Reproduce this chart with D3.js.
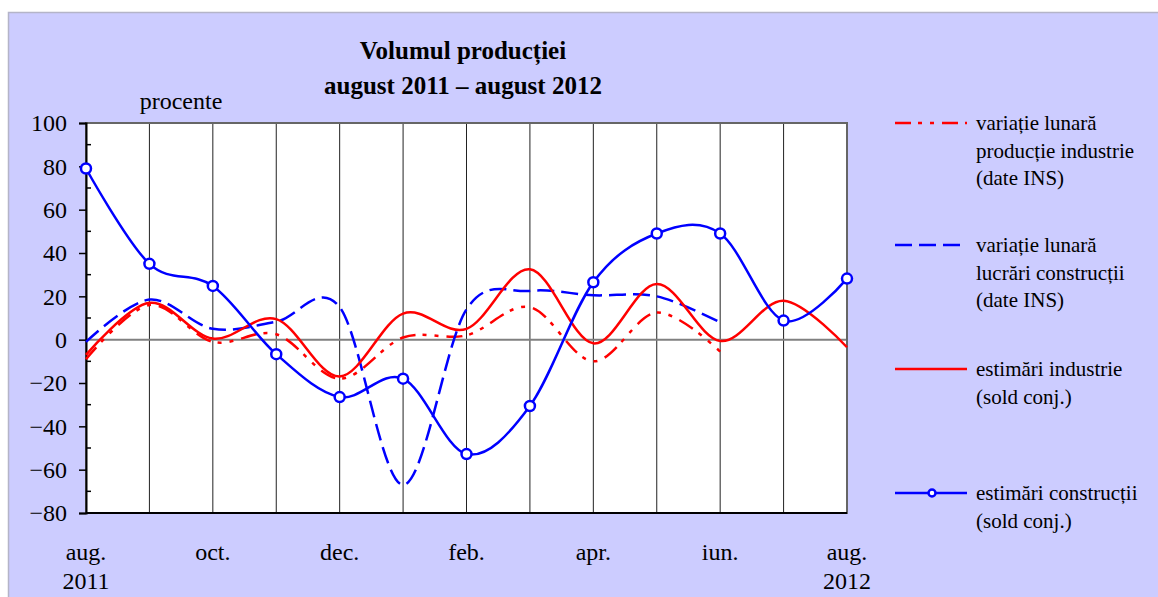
<!DOCTYPE html>
<html>
<head>
<meta charset="utf-8">
<script src="https://cdn.jsdelivr.net/npm/d3@7"></script>
<style>
body { margin: 0; background: #fff; }
text { font-family: "Liberation Serif", "Times New Roman", serif; fill: #000; }
</style>
</head>
<body>
<div id="chart"></div>
<script>
var months = ["aug.", "sep.", "oct.", "nov.", "dec.", "ian.", "feb.", "mar.", "apr.", "mai", "iun.", "iul.", "aug."];
var yTicks = [-80, -60, -40, -20, 0, 20, 40, 60, 80, 100];

// variatie lunara productie industrie (date INS), aug 2011 - iun 2012
var indProd = [-9, 16, -1, 2.5, -18, 1, 2, 15, -10, 12.5, -5.5];
// variatie lunara lucrari constructii (date INS)
var constrIns = [-1, 18.5, 5, 8.3, 15, -67, 14, 22.5, 20.5, 20, 8];
// estimari industrie (sold conj.)
var indEst = [-7, 17, 0.5, 9.5, -17, 12, 5, 32.5, -1.7, 25.7, -0.6, 18, -3.5];
// estimari constructii (sold conj.)
var constrEst = [79, 35, 24.8, -6.7, -26.5, -18, -52.8, -30.6, 26.5, 49, 49, 8.8, 28.2];

var W = 1158, H = 597;
var pLeft = 86, pRight = 847, pTop = 123, pBottom = 513;

var svg = d3.select("#chart").append("svg")
	.attr("width", W)
	.attr("height", H);

svg.append("rect")
	.attr("x", 8.5).attr("y", 12.5)
	.attr("width", W).attr("height", H)
	.attr("fill", "#ccccff")
	.attr("stroke", "#b4b4c8")
	.attr("stroke-width", 1.5);

var x = d3.scaleLinear().domain([0, months.length - 1]).range([pLeft, pRight]);
var y = d3.scaleLinear().domain([-80, 100]).range([pBottom, pTop]);

svg.append("rect")
	.attr("x", pLeft).attr("y", pTop)
	.attr("width", pRight - pLeft).attr("height", pBottom - pTop)
	.attr("fill", "#fff");

// vertical grid, one per month
svg.append("g").selectAll("line")
	.data(months)
	.enter()
	.append("line")
	.attr("x1", function(d, i){ return x(i); })
	.attr("x2", function(d, i){ return x(i); })
	.attr("y1", pTop).attr("y2", pBottom)
	.attr("stroke", "#222")
	.attr("stroke-width", 1);

svg.append("line")
	.attr("x1", pLeft).attr("x2", pRight)
	.attr("y1", y(0)).attr("y2", y(0))
	.attr("stroke", "#808080")
	.attr("stroke-width", 2);

svg.append("rect")
	.attr("x", pLeft).attr("y", pTop)
	.attr("width", pRight - pLeft).attr("height", pBottom - pTop)
	.attr("fill", "none")
	.attr("stroke", "#666")
	.attr("stroke-width", 2);

svg.append("line")
	.attr("x1", pLeft).attr("x2", pRight)
	.attr("y1", pBottom).attr("y2", pBottom)
	.attr("stroke", "#000").attr("stroke-width", 2);

// y axis
var yAxis = d3.axisLeft(y).tickValues(yTicks).tickSize(7).tickPadding(12);
var ga = svg.append("g")
	.attr("transform", "translate(" + pLeft + ",0)")
	.call(yAxis);
ga.select(".domain").attr("stroke", "#000").attr("stroke-width", 2);
ga.selectAll(".tick line").attr("stroke", "#000").attr("stroke-width", 1.5);
ga.selectAll(".tick text")
	.style("font-family", "'Liberation Serif', serif")
	.style("font-size", "24px")
	.attr("fill", "#000");

var minor = d3.range(-70, 100, 20);
svg.append("g").selectAll("line")
	.data(minor)
	.enter()
	.append("line")
	.attr("x1", pLeft).attr("x2", pLeft + 5)
	.attr("y1", function(d){ return y(d); })
	.attr("y2", function(d){ return y(d); })
	.attr("stroke", "#000").attr("stroke-width", 1.5);

// month labels, every second month
svg.append("g").selectAll("text")
	.data(months.filter(function(d, i){ return i % 2 == 0; }))
	.enter()
	.append("text")
	.attr("x", function(d, i){ return x(i * 2); })
	.attr("y", 560)
	.attr("text-anchor", "middle")
	.style("font-size", "24px")
	.text(function(d){ return d; });

svg.append("text").attr("x", x(0)).attr("y", 589).attr("text-anchor", "middle")
	.style("font-size", "24px").text("2011");
svg.append("text").attr("x", x(12)).attr("y", 589).attr("text-anchor", "middle")
	.style("font-size", "24px").text("2012");

svg.append("text").attr("x", 181).attr("y", 109).attr("text-anchor", "middle")
	.style("font-size", "24px").text("procente");

svg.append("text").attr("x", 463).attr("y", 59).attr("text-anchor", "middle")
	.style("font-size", "25px").style("font-weight", "bold").text("Volumul producției");
svg.append("text").attr("x", 463).attr("y", 94).attr("text-anchor", "middle")
	.style("font-size", "25px").style("font-weight", "bold").text("august 2011 – august 2012");

var line = d3.line()
	.x(function(d, i){ return x(i); })
	.y(function(d){ return y(d); })
	.curve(d3.curveCardinal.tension(0));

var series = [
	{ name: ["variație lunară", "producție industrie", "(date INS)"], data: indProd, color: "#ff0000", dash: "16,7,4,8,4,8", ly: 123 },
	{ name: ["variație lunară", "lucrări construcții", "(date INS)"], data: constrIns, color: "#0000ff", dash: "17,7", ly: 245 },
	{ name: ["estimări industrie", "(sold conj.)"], data: indEst, color: "#ff0000", dash: null, ly: 369 },
	{ name: ["estimări construcții", "(sold conj.)"], data: constrEst, color: "#0000ff", dash: null, ly: 493, marker: true }
];

var plot = svg.append("g");
series.forEach(function(s){
	plot.append("path")
		.attr("d", line(s.data))
		.attr("fill", "none")
		.attr("stroke", s.color)
		.attr("stroke-width", 2.5)
		.attr("stroke-dasharray", s.dash);
	if(s.marker){
		plot.selectAll(null)
			.data(s.data)
			.enter()
			.append("circle")
			.attr("cx", function(d, i){ return x(i); })
			.attr("cy", function(d){ return y(d); })
			.attr("r", 5)
			.attr("fill", "#fff")
			.attr("stroke", s.color)
			.attr("stroke-width", 2.5);
	}
});

// legend
var lg = svg.append("g");
series.forEach(function(s){
	lg.append("line")
		.attr("x1", 895).attr("x2", 967)
		.attr("y1", s.ly).attr("y2", s.ly)
		.attr("stroke", s.color)
		.attr("stroke-width", 2.5)
		.attr("stroke-dasharray", s.dash);
	if(s.marker){
		lg.append("circle").attr("cx", 932).attr("cy", s.ly).attr("r", 3.5)
			.attr("fill", "#fff").attr("stroke", s.color).attr("stroke-width", 2.5);
	}
	s.name.forEach(function(t, j){
		lg.append("text")
			.attr("x", 976)
			.attr("y", s.ly + 7 + j * 27.5)
			.style("font-size", "21px")
			.text(t);
	});
});
</script>
</body>
</html>
